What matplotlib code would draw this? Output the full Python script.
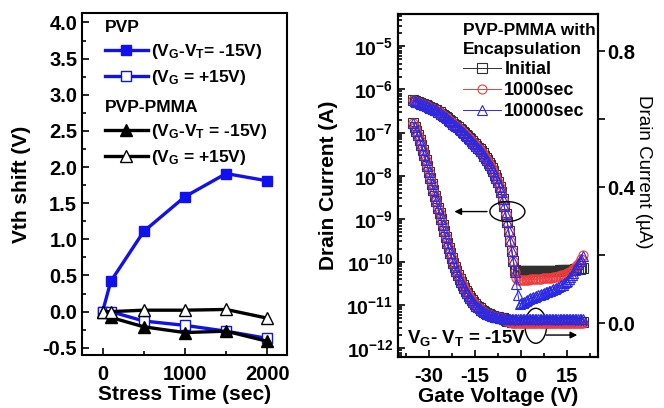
import numpy as np
import matplotlib
matplotlib.use("Agg")
import matplotlib.pyplot as plt
from matplotlib.lines import Line2D
from matplotlib.patches import Ellipse
from matplotlib.ticker import MultipleLocator, LogLocator, NullFormatter, FormatStrFormatter

plt.rcParams['font.family'] = ['Liberation Sans', 'DejaVu Sans']
plt.rcParams['font.weight'] = 'bold'
plt.rcParams['axes.labelweight'] = 'bold'
plt.rcParams['axes.unicode_minus'] = False
plt.rcParams['mathtext.fontset'] = 'custom'
plt.rcParams['mathtext.rm'] = 'Liberation Sans:bold'
plt.rcParams['mathtext.it'] = 'Liberation Sans:bold'
plt.rcParams['mathtext.bf'] = 'Liberation Sans:bold'
plt.rcParams['mathtext.default'] = 'regular'

# ---- left panel: Vth shift vs stress time
stress_time = [0, 100, 500, 1000, 1500, 2000]
pvp_neg = [0, 0.42, 1.11, 1.59, 1.91, 1.81]
pvp_pos = [0, 0, -0.13, -0.19, -0.27, -0.37]
pmma_neg = [0, -0.08, -0.21, -0.29, -0.27, -0.41]
pmma_pos = [0, 0, 0.02, 0.02, 0.03, -0.09]

# ---- right panel: transfer curves, gate sweep -35 V .. 20 V in 0.5 V steps
gate_v = np.arange(-35, 20.5, 0.5)

# log10 of drain current, on-state part shared by the three curves (-35 .. -2.5 V)
logid_on = [-6.25, -6.27, -6.28, -6.30, -6.31, -6.33, -6.34, -6.36, -6.37, -6.39,
            -6.40, -6.42, -6.43, -6.45, -6.47, -6.48, -6.51, -6.53, -6.56, -6.59,
            -6.62, -6.64, -6.67, -6.70, -6.73, -6.76, -6.79, -6.82, -6.85, -6.88,
            -6.92, -6.95, -6.98, -7.01, -7.05, -7.08, -7.12, -7.15, -7.19, -7.23,
            -7.27, -7.31, -7.35, -7.39, -7.43, -7.48, -7.53, -7.58, -7.64, -7.70,
            -7.76, -7.83, -7.90, -7.98, -8.06, -8.15, -8.25, -8.38, -8.53, -8.70,
            -8.88, -9.08, -9.29, -9.51, -9.74, -9.98]
# off-state tails (-2 .. 20 V)
logid_init = [-10.18, -10.20] + [-10.21] * 13 + [-10.20] * 14 + [-10.19] * 8 + \
             [-10.18, -10.18, -10.17, -10.17, -10.16, -10.15, -10.14, -10.13]
logid_1000 = [-10.24, -10.38, -10.42, -10.42, -10.42, -10.42, -10.41, -10.41, -10.41,
              -10.41, -10.40, -10.40, -10.40, -10.40, -10.40, -10.39, -10.39, -10.39,
              -10.38, -10.38, -10.38, -10.37, -10.37, -10.36, -10.36, -10.35, -10.34,
              -10.34, -10.33, -10.32, -10.31, -10.30, -10.29, -10.28, -10.26, -10.24,
              -10.22, -10.20, -10.17, -10.14, -10.10, -10.05, -9.99, -9.92, -9.84]
logid_10000 = [-10.22, -10.50, -10.76, -10.97, -10.96, -10.94, -10.92, -10.90, -10.88,
               -10.86, -10.84, -10.83, -10.81, -10.80, -10.78, -10.77, -10.76, -10.74,
               -10.73, -10.72, -10.70, -10.69, -10.68, -10.66, -10.65, -10.63, -10.62,
               -10.60, -10.58, -10.56, -10.54, -10.52, -10.49, -10.46, -10.43, -10.39,
               -10.35, -10.30, -10.25, -10.19, -10.12, -10.05, -9.98, -9.92, -9.86]

# linear drain current (uA), on-state part shared (-35 .. -6 V)
id_on = [0.590, 0.578, 0.565, 0.553, 0.540, 0.525, 0.510, 0.495, 0.480, 0.463,
         0.445, 0.428, 0.410, 0.393, 0.375, 0.358, 0.340, 0.323, 0.305, 0.288,
         0.270, 0.252, 0.235, 0.220, 0.205, 0.191, 0.178, 0.165, 0.153, 0.142,
         0.131, 0.121, 0.112, 0.103, 0.095, 0.087, 0.080, 0.073, 0.067, 0.061,
         0.056, 0.051, 0.047, 0.043, 0.039, 0.036, 0.033, 0.030, 0.028, 0.026,
         0.024, 0.022, 0.021, 0.019, 0.018, 0.017, 0.016, 0.015, 0.014]
# tails (-5.5 .. 20 V)
id_init = [0.011, 0.009, 0.007, 0.006, 0.005, 0.004] + [0.003] * 46
id_1000 = [0.010, 0.007, 0.005, 0.003, 0.002, 0.001] + [0.0] * 46
id_10000 = [0.013, 0.013] + [0.012] * 8 + [0.011] * 42

curves = [
    ('Initial', '#303030', 's', logid_init, id_init),
    ('1000sec', '#f03c3c', 'o', logid_1000, id_1000),
    ('10000sec', '#2a2ae6', '^', logid_10000, id_10000),
]


def bold_ticks(a):
    for t in a.get_xticklabels() + a.get_yticklabels():
        t.set_fontweight('bold')


fig = plt.figure(figsize=(6.64, 4.08), dpi=100)

# ================= left panel
ax = fig.add_axes([0.1235, 0.1299, 0.3087, 0.838])
blue = '#1010f0'
ax.plot(stress_time, pvp_neg, '-s', color=blue, lw=2.4, ms=7.5, mfc=blue, mec=blue)
ax.plot(stress_time, pvp_pos, '-s', color=blue, lw=2.4, ms=7.5, mfc='white', mec=blue, mew=1)
ax.plot(stress_time, pmma_neg, '-^', color='black', lw=2.4, ms=8.5, mfc='black', mec='black')
ax.plot(stress_time, pmma_pos, '-^', color='black', lw=2.4, ms=8.5, mfc='white', mec='black', mew=1)
ax.set_xlim(-250, 2240)
ax.set_ylim(-0.6, 4.13)
ax.xaxis.set_major_locator(MultipleLocator(1000))
ax.xaxis.set_minor_locator(MultipleLocator(500))
ax.yaxis.set_major_locator(MultipleLocator(0.5))
ax.yaxis.set_minor_locator(MultipleLocator(0.25))
ax.yaxis.set_major_formatter(FormatStrFormatter('%.1f'))
ax.tick_params(which='both', direction='in', top=False, right=False, labelsize=14.5, width=1.2)
ax.tick_params(which='major', length=5)
ax.tick_params(which='minor', length=3)
ax.tick_params(axis='x', pad=7)
bold_ticks(ax)
for s in ax.spines.values():
    s.set_linewidth(1.5)
ax.set_xlabel('Stress Time (sec)', fontsize=15, labelpad=1)
ax.set_ylabel('Vth shift (V)', fontsize=15, labelpad=8)

h1 = Line2D([], [], color=blue, lw=2.4, marker='s', ms=7.5, mfc=blue, mec=blue)
h2 = Line2D([], [], color=blue, lw=2.4, marker='s', ms=7.5, mfc='white', mec=blue)
h3 = Line2D([], [], color='black', lw=2.4, marker='^', ms=8.5, mfc='black')
h4 = Line2D([], [], color='black', lw=2.4, marker='^', ms=8.5, mfc='white')
leg1 = ax.legend([h1, h2], [r'(V$_{G}$-V$_{T}$= -15V)', r'(V$_{G}$ = +15V)'],
                 title='PVP', loc='upper left', bbox_to_anchor=(0.06, 1.01),
                 frameon=False, fontsize=12.5, title_fontsize=12.5, alignment='left',
                 handlelength=2.5, handletextpad=0.15, labelspacing=0.4, borderaxespad=0.2)
leg1.get_title().set_fontweight('bold')
ax.add_artist(leg1)
leg2 = ax.legend([h3, h4], [r'(V$_{G}$-V$_{T}$ = -15V)', r'(V$_{G}$ = +15V)'],
                 title='PVP-PMMA', loc='upper left', bbox_to_anchor=(0.06, 0.775),
                 frameon=False, fontsize=12.5, title_fontsize=12.5, alignment='left',
                 handlelength=2.5, handletextpad=0.15, labelspacing=0.4, borderaxespad=0.2)
leg2.get_title().set_fontweight('bold')

# ================= right panel
axl = fig.add_axes([0.5994, 0.125, 0.3012, 0.8407])
axr = axl.twinx()
handles = []
for name, col, mk, log_tail, lin_tail in curves:
    logid = np.array(logid_on + log_tail)
    lin = np.array(id_on + lin_tail)
    h, = axl.plot(gate_v, 10.0 ** logid, '-', marker=mk, color=col, lw=0.7, ms=6.5,
                  mfc='none', mec=col, mew=0.8)
    axr.plot(gate_v, lin, '-', marker=mk, color=col, lw=0.7, ms=6.5,
             mfc='none', mec=col, mew=0.8)
    handles.append(h)

axl.set_yscale('log')
axl.set_ylim(10 ** -12.2, 10 ** -4.25)
axl.set_xlim(-40, 25)
axr.set_ylim(-0.1, 0.91)
axl.xaxis.set_major_locator(MultipleLocator(15))
axl.xaxis.set_minor_locator(MultipleLocator(7.5))
axl.yaxis.set_major_locator(LogLocator(base=10, numticks=20))
axl.yaxis.set_minor_locator(LogLocator(base=10, subs=np.arange(2, 10), numticks=20))
axl.yaxis.set_minor_formatter(NullFormatter())
axr.yaxis.set_major_locator(MultipleLocator(0.4))
axr.yaxis.set_minor_locator(MultipleLocator(0.2))
axr.yaxis.set_major_formatter(FormatStrFormatter('%.1f'))
axl.tick_params(which='both', direction='in', right=False, top=False, labelsize=14, width=1.2)
axl.tick_params(which='major', length=5)
axl.tick_params(which='minor', length=3)
axl.tick_params(axis='x', labelsize=14.5, pad=7)
axr.tick_params(which='both', direction='out', labelsize=14.5, width=1.2, pad=2)
axr.tick_params(which='major', length=5)
axr.tick_params(which='minor', length=5)
bold_ticks(axl)
bold_ticks(axr)
for a in (axl, axr):
    for s in a.spines.values():
        s.set_linewidth(1.5)
axl.set_xlabel('Gate Voltage (V)', fontsize=15, labelpad=1)
axl.set_ylabel('Drain Current (A)', fontsize=15, labelpad=6)
axr.set_ylabel('Drain Current (µA)', fontsize=13.5, fontweight='normal', rotation=270)
axr.yaxis.set_label_coords(1.27, 0.54)

leg3 = axr.legend(handles, [c[0] for c in curves], title='PVP-PMMA with\nEncapsulation',
                  loc='upper left', bbox_to_anchor=(0.27, 1.005), frameon=False,
                  fontsize=13, title_fontsize=12.5, alignment='left',
                  handlelength=2.1, handletextpad=0.2, labelspacing=0.22, borderaxespad=0.2)
leg3.get_title().set_fontweight('bold')
leg3.get_title().set_linespacing(1.35)

# annotations: ellipses with arrows pointing to the relevant axis
axr.add_patch(Ellipse((0.547, 0.424), 0.175, 0.058, transform=axl.transAxes,
                      fill=False, lw=1.0, color='black'))
axr.annotate('', xy=(0.268, 0.424), xytext=(0.459, 0.424), xycoords=axl.transAxes,
             arrowprops=dict(arrowstyle='-|>', lw=1.0, color='black', mutation_scale=10))
axr.add_patch(Ellipse((0.689, 0.091), 0.108, 0.102, transform=axl.transAxes,
                      fill=False, lw=1.0, color='black'))
axr.annotate('', xy=(0.91, 0.064), xytext=(0.727, 0.064), xycoords=axl.transAxes,
             arrowprops=dict(arrowstyle='-|>', lw=1.0, color='black', mutation_scale=10))
axr.text(0.045, 0.055, r'V$_{G}$- V$_{T}$ = -15V', transform=axl.transAxes,
         fontsize=13.5, va='center', ha='left')

fig.savefig('out.png', dpi=100)
